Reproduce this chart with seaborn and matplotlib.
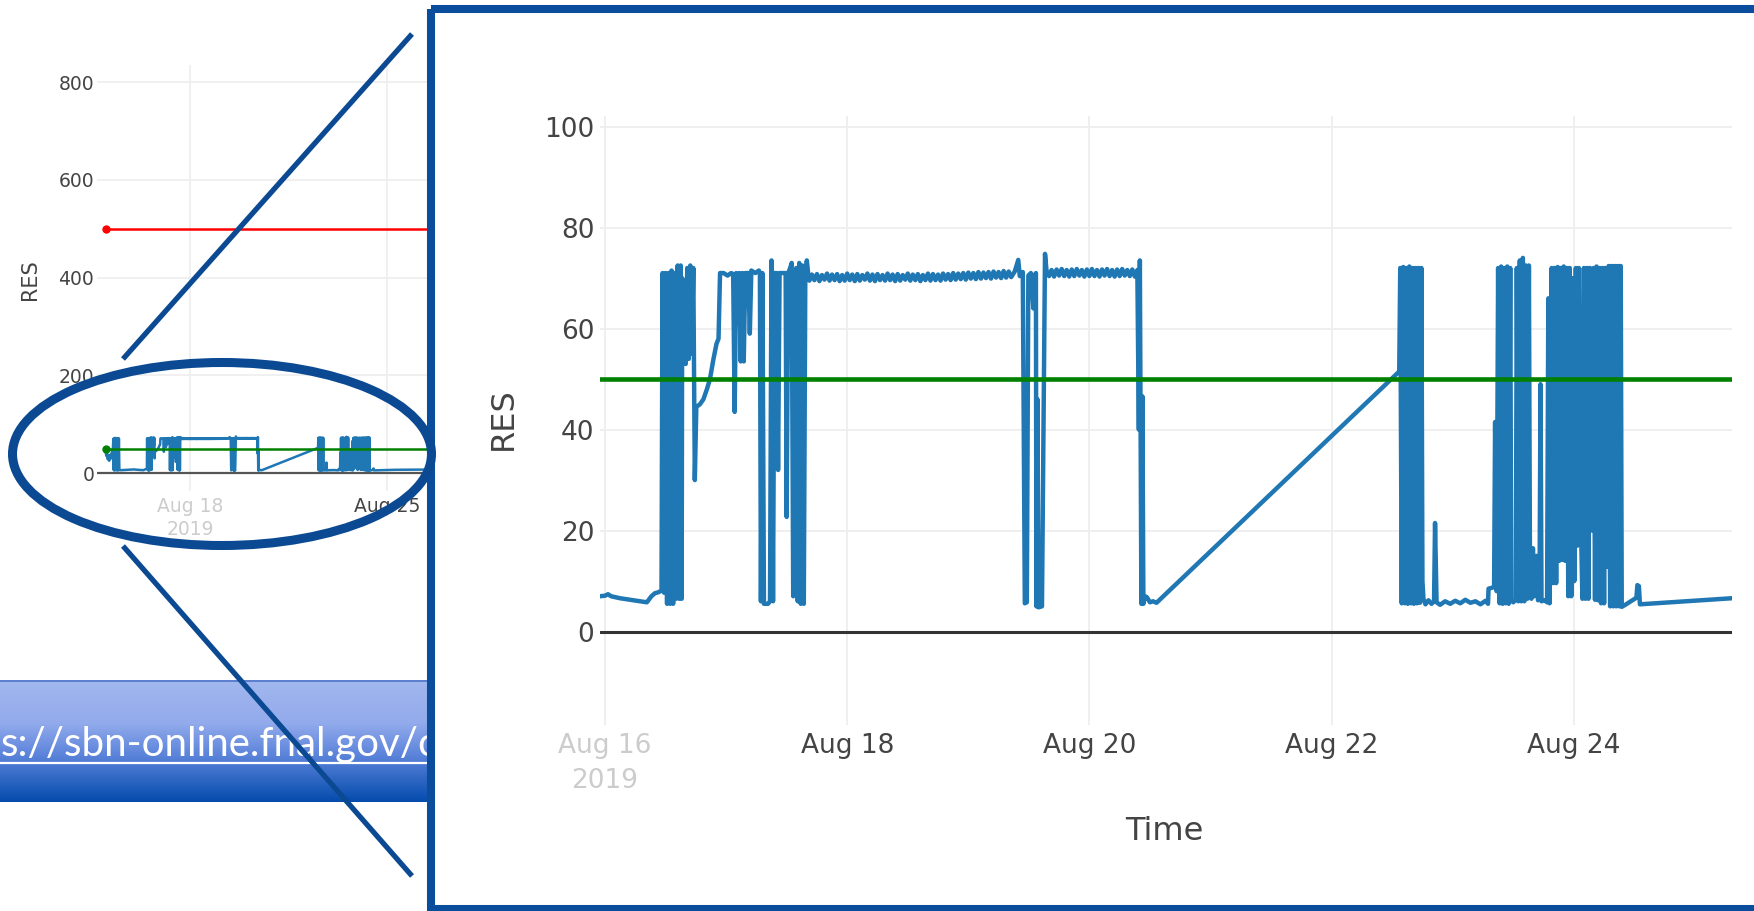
import numpy as np
import pandas as pd
import matplotlib
matplotlib.use('Agg')
import matplotlib.pyplot as plt
from matplotlib.patches import Rectangle, Ellipse
from matplotlib.colors import LinearSegmentedColormap
import seaborn as sns

sns.set_theme(style='white')
plt.rcParams['font.family'] = ['DejaVu Sans']

# ---------------- data (hours since 2019-08-16 00:00, RES values) ----------------
h_pre = [-24, -23.4, -22.8, -22.2, -21.6, -21, -20.4, -19.8, -19.2, -18.6, -18,
         -17.5, -17.1, -16.7, -16.3, -15.9, -15.5, -15.1, -14.7, -14.3, -13.9, -13.5, -13.1, -12.7, -12.3,
         -11, -8, -5, -2]
v_pre = [42, 35, 40, 28, 36, 25, 33, 38, 30, 44, 36,
         70, 6, 71, 5, 72, 7, 70, 6, 71, 5, 70, 6, 71, 6,
         5.8, 6.2, 6.6, 7.0]

h_b1 = [-1, 0, 0.6, 1.2, 3, 5, 7, 8.3, 9.2, 9.9, 10.6, 11.2,
        11.4, 11.7, 12.0, 12.3, 12.6, 12.9, 13.2, 13.5, 13.8, 14.1, 14.4, 14.7, 15.0, 15.2,
        15.3, 15.7, 16.0, 16.3, 16.6, 16.9, 17.2, 17.5, 17.8,
        18.1, 18.8, 19.5, 20.2, 20.8, 21.5, 22.1, 22.5, 22.8]
v_b1 = [7.0, 7.1, 7.4, 7.0, 6.6, 6.3, 6.0, 5.8, 7.0, 7.6, 7.8, 8.1,
        71, 7.7, 71, 5.5, 71, 5.5, 71.5, 5.5, 71, 6.5, 72.5, 6.5, 72.5, 6.5,
        70, 54, 53, 72, 54, 72.5, 55, 72, 30,
        44.5, 45, 46, 48, 50, 54, 57, 58, 71]

h_a17 = [23.5, 24.3, 25.0, 25.4, 25.7, 26.0, 26.3, 26.6, 26.9, 27.2, 27.5, 27.8, 28.4, 28.7, 29.0, 29.8, 30.5,
         30.7, 30.9, 31.2, 31.5, 32.3, 32.7, 33.0, 33.3, 33.6, 34.0, 34.3, 34.6,
         35.2, 35.8, 36.0, 36.3, 36.7, 37.0,
         37.3, 37.6, 37.9, 38.2, 38.5, 38.8, 39.1, 39.4, 39.7, 40.0, 40.3]
v_a17 = [71, 70.5, 71, 70.8, 43.5, 71, 64, 71, 53.5, 71, 53.5, 71, 71, 59, 71.5, 71, 71.5,
         71, 6, 71, 5.5, 5.5, 6, 73.5, 6, 71, 71, 32, 71,
         71, 71, 22.7, 71, 72, 73,
         7, 48, 72, 6, 73, 5.5, 72.5, 5.5, 71, 73.5, 70.5]

h_p1 = [40.5, 41.0, 41.5, 42.0, 42.5, 43.0, 43.5, 44.0, 44.5, 45.0,
        45.5, 46.0, 46.5, 47.0, 47.5, 48.0, 48.5, 49.0, 49.5, 50.0,
        50.5, 51.0, 51.5, 52.0, 52.5, 53.0, 53.5, 54.0, 54.5, 55.0,
        55.5, 56.0, 56.5, 57.0, 57.5, 58.0, 58.5, 59.0, 59.5, 60.0,
        60.5, 61.0, 61.5, 62.0, 62.5, 63.0, 63.5, 64.0, 64.5, 65.0,
        65.5, 66.0, 66.5, 67.0, 67.5, 68.0, 68.5, 69.0, 69.5, 70.0,
        70.5, 71.0, 71.5, 72.0, 72.5, 73.0, 73.5, 74.0, 74.5, 75.0,
        75.5, 76.0, 76.5, 77.0, 77.5, 78.0, 78.5, 79.0, 79.5, 80.0,
        80.5, 81.2, 81.9, 82.2, 82.8]
v_p1 = [69.5, 70.7, 69.6, 70.8, 69.4, 70.6, 69.7, 70.9, 69.5, 70.7,
        69.6, 70.8, 69.4, 70.6, 69.5, 70.9, 69.6, 70.7, 69.4, 70.8,
        69.5, 70.6, 69.7, 70.9, 69.5, 70.7, 69.4, 70.8, 69.6, 70.6,
        69.5, 70.9, 69.6, 70.7, 69.4, 70.8, 69.5, 70.6, 69.7, 70.9,
        69.5, 70.7, 69.6, 70.8, 69.4, 70.6, 69.6, 70.9, 69.5, 70.8,
        69.6, 70.7, 69.5, 70.9, 69.7, 70.8, 69.6, 71.0, 69.7, 70.9,
        69.8, 71.0, 69.7, 71.1, 69.9, 71.0, 69.8, 71.2, 69.9, 71.1,
        70.0, 71.2, 69.9, 71.3, 70.1, 71.2, 70.0, 71.4, 70.1, 71.3,
        70.2, 71.3, 73.6, 70.4, 71.2]

h_d1 = [83.2, 83.6, 83.9, 84.4, 84.9, 85.1, 85.4, 85.5, 85.7, 85.9, 86.6, 87.2, 87.5]
v_d1 = [5.6, 5.8, 70.5, 71, 64, 70.5, 71, 5, 46, 4.8, 5.0, 74.8, 71.5]

h_p2 = [88.0, 88.5, 89.0, 89.5, 90.0, 90.5, 91.0, 91.5, 92.0, 92.5,
        93.0, 93.5, 94.0, 94.5, 95.0, 95.5, 96.0, 96.5, 97.0, 97.5,
        98.0, 98.5, 99.0, 99.5, 100.0, 100.5, 101.0, 101.5, 102.0, 102.5,
        103.0, 103.5, 104.0, 104.5, 105.0, 105.5]
v_p2 = [70.4, 71.6, 70.3, 71.7, 70.5, 71.8, 70.4, 71.6, 70.3, 71.7,
        70.4, 71.8, 70.5, 71.6, 70.3, 71.7, 70.4, 71.8, 70.4, 71.6,
        70.3, 71.7, 70.5, 71.8, 70.4, 71.6, 70.3, 71.7, 70.4, 71.8,
        70.5, 71.6, 70.4, 71.7, 70.3, 71.6]

h_d2 = [105.8, 106.0, 106.3, 106.5, 106.7, 107.0, 107.4, 108.0, 108.6, 109.3, 157.4]
v_d2 = [40, 73.5, 5.5, 46.6, 5.5, 7.0, 6.8, 5.8, 6.0, 5.7, 51.5]

h_b2 = [157.6, 157.9, 158.2, 158.5, 158.8, 159.1, 159.4, 159.7, 160.0, 160.3, 160.6, 160.9,
        161.2, 161.5, 161.8, 162.0, 162.2]
v_b2 = [72, 5.6, 72.2, 5.6, 72, 5.5, 72.3, 5.6, 72, 5.5, 72, 5.6,
        72, 5.7, 72, 10, 6.5]

h_low = [162.6, 163.2, 163.8, 164.3, 164.5, 164.8, 165.5, 166.5, 167.5, 168.5, 169.5, 170.5,
         171.5, 172.5, 173.5, 174.5, 175.0, 175.1, 176.2, 176.4, 176.7]
v_low = [5.4, 6.2, 5.5, 6.0, 21.5, 5.8, 5.3, 6.0, 5.5, 6.1, 5.6, 6.3,
         5.7, 6.0, 5.4, 6.1, 5.5, 8.5, 8.8, 41.5, 8]

h_b34 = [177.0, 177.3, 177.6, 177.9, 178.2, 178.5, 178.8, 179.1, 179.4, 179.6, 180.0, 180.5,
         180.7, 181.0, 181.3, 181.6, 181.9, 182.2, 182.5, 182.8, 183.1, 183.3, 183.6, 183.9,
         184.2, 184.6, 184.9, 185.2, 185.4, 185.6, 186.2, 186.7]
v_b34 = [72, 5.6, 72.3, 5.5, 72, 5.6, 72.3, 5.5, 72, 6.2, 5.8, 6.3,
         72, 6, 73.5, 6, 74, 6, 72.5, 6.5, 72.5, 16, 6.5, 16.5,
         7, 15, 6.2, 6.5, 49, 6.0, 6.2, 5.8]

h_b5 = [186.95, 187.2, 187.6, 187.9, 188.2, 188.5, 188.8, 189.1, 189.4, 189.7, 190.0, 190.3,
        190.6, 190.9, 191.2, 191.5, 191.8, 192.1, 192.4, 192.7, 193.0, 193.3, 193.7, 194.0,
        194.3, 194.6, 194.9, 195.2, 195.5, 195.9, 196.2, 196.5, 196.8, 197.1, 197.4, 197.7,
        198.0, 198.2, 198.55, 198.9, 199.2, 199.5, 199.8, 200.1, 200.4, 200.7, 201.0, 201.3, 201.5]
v_b5 = [66, 5.6, 72, 9.6, 72, 9.6, 72.2, 14, 72, 14.2, 72.3, 14,
        72, 7, 72, 7, 70, 10, 72, 17, 72, 27, 6.5, 72,
        6.5, 72, 6.5, 72, 20, 72, 6.3, 72.3, 6.2, 72, 5.6, 72,
        5.6, 72, 12.8, 72.4, 5.0, 72.4, 5.0, 72.4, 5.0, 72.4, 5.0, 72.4, 4.9]

h_tail = [202.2, 203.0, 203.8, 204.4, 204.6, 204.9, 205.1, 223.3, 240, 260]
v_tail = [5.3, 5.8, 6.3, 6.7, 9.2, 9.0, 5.4, 6.6, 6.9, 7.2]

thresh_hours = [-24, 300]
red_level = [500, 500]
green_level = [50, 50]

small_yticks = [0, 200, 400, 600, 800]
small_xtick_dates = ['2019-08-18', '2019-08-25']
small_xtick_labels = ['Aug 18\n2019', 'Aug 25']
big_yticks = [0, 20, 40, 60, 80, 100]
big_xtick_dates = ['2019-08-16', '2019-08-18', '2019-08-20', '2019-08-22', '2019-08-24']
big_xtick_labels = ['Aug 16\n2019', 'Aug 18', 'Aug 20', 'Aug 22', 'Aug 24']
url_text = 's://sbn-online.fnal.gov/cgi-bin'

hours = h_pre + h_b1 + h_a17 + h_p1 + h_d1 + h_p2 + h_d2 + h_b2 + h_low + h_b34 + h_b5 + h_tail
values = v_pre + v_b1 + v_a17 + v_p1 + v_d1 + v_p2 + v_d2 + v_b2 + v_low + v_b34 + v_b5 + v_tail

base = pd.Timestamp('2019-08-16')
df = pd.DataFrame({'Time': base + pd.to_timedelta(hours, unit='h'), 'RES': values})
thr = pd.DataFrame({'Time': base + pd.to_timedelta(thresh_hours, unit='h'),
                    'red': red_level, 'green': green_level})

# ---------------- figure ----------------
W, H = 1754, 911
fig = plt.figure(figsize=(W / 100, H / 100), dpi=100)
fig.patch.set_facecolor('white')


def axes_px(left, top, right, bottom):
    return fig.add_axes([left / W, 1 - bottom / H, (right - left) / W, (bottom - top) / H])


BLUE = '#1f77b4'
GREEN = '#008000'
RED = '#ff0000'
TXT = '#444444'
LIGHT = '#cccccc'
GRID = '#eeeeee'
NAVY = '#0b4a92'

# ---------- small chart ----------
ax_s = axes_px(97, 65, 560, 491)
ax_s.set_zorder(1)
ax_s.grid(True, color=GRID, lw=1.2)
ax_s.set_axisbelow(True)
sns.lineplot(data=df, x='Time', y='RES', ax=ax_s, color=BLUE, lw=1.8, estimator=None, sort=False)
sns.lineplot(data=thr, x='Time', y='red', ax=ax_s, color=RED, lw=1.8, estimator=None,
             marker='o', markersize=6, markeredgewidth=0, markevery=[0])
sns.lineplot(data=thr, x='Time', y='green', ax=ax_s, color=GREEN, lw=1.8, estimator=None,
             marker='o', markersize=6, markeredgewidth=0, markevery=[0])
ax_s.axhline(0, color='#555555', lw=1.6, zorder=1.5)
ax_s.set_xlim(base + pd.Timedelta(hours=-31.4), base + pd.Timedelta(hours=364))
ax_s.set_ylim(-36.8, 835)
ax_s.set_yticks(small_yticks)
ax_s.set_yticklabels([str(v) for v in small_yticks])
ax_s.set_xticks(pd.to_datetime(small_xtick_dates))
ax_s.set_xticklabels(small_xtick_labels)
ax_s.tick_params(axis='both', length=0, labelsize=13.5, colors=TXT)
ax_s.tick_params(axis='y', pad=2)
ax_s.tick_params(axis='x', pad=4)
for lbl in ax_s.get_xticklabels():
    lbl.set_linespacing(1.3)
ax_s.get_xticklabels()[0].set_color(LIGHT)
ax_s.set_xlabel('')
ax_s.set_ylabel('')
for sp in ax_s.spines.values():
    sp.set_visible(False)
fig.text(30 / W, 1 - 280 / H, 'RES', rotation=90, ha='center', va='center', fontsize=15, color=TXT)

# ---------- overlay 1: banner + white frame fill ----------
ov1 = fig.add_axes([0, 0, 1, 1])
ov1.set_zorder(2)
ov1.patch.set_facecolor('none')
ov1.axis('off')
cmap = LinearSegmentedColormap.from_list('banner', [(0.0, '#a2b7ef'), (0.35, '#93abec'),
                                                    (0.6, '#5f86dc'), (1.0, '#054cae')])
grad = np.linspace(0, 1, 200).reshape(-1, 1)
ov1.imshow(grad, cmap=cmap, extent=(0, 431, 802, 680), aspect='auto', zorder=1, interpolation='bilinear')
ov1.plot([0, 431], [680.5, 680.5], color='#4f76c8', lw=1.2, zorder=2)
ov1.text(1, 756, url_text, fontsize=29, family='Lato', color='white', ha='left', va='baseline', zorder=3)
ov1.plot([0, 431], [763, 763], color='white', lw=1.6, zorder=3)
ov1.add_patch(Rectangle((431, 9), 1400, 900, facecolor='white', edgecolor='none', zorder=5))
ov1.set_xlim(0, W)
ov1.set_ylim(H, 0)

# ---------- big chart ----------
ax_b = axes_px(600, 116, 1732, 725)
ax_b.set_zorder(3)
ax_b.grid(True, color=GRID, lw=1.3)
ax_b.set_axisbelow(True)
sns.lineplot(data=df, x='Time', y='RES', ax=ax_b, color=BLUE, lw=3.2, estimator=None, sort=False)
sns.lineplot(data=thr, x='Time', y='green', ax=ax_b, color=GREEN, lw=3.3, estimator=None)
ax_b.axhline(0, color='#333333', lw=2.2, zorder=1.5)
ax_b.set_xlim(base + pd.Timedelta(hours=-0.99), base + pd.Timedelta(hours=223.35))
ax_b.set_ylim(-18.5, 102.1)
ax_b.set_yticks(big_yticks)
ax_b.set_yticklabels([str(v) for v in big_yticks])
ax_b.set_xticks(pd.to_datetime(big_xtick_dates))
ax_b.set_xticklabels(big_xtick_labels)
ax_b.tick_params(axis='both', length=0, labelsize=19, colors=TXT)
ax_b.tick_params(axis='y', pad=4)
ax_b.tick_params(axis='x', pad=6)
for lbl in ax_b.get_xticklabels():
    lbl.set_linespacing(1.45)
ax_b.get_xticklabels()[0].set_color(LIGHT)
ax_b.set_xlabel('')
ax_b.set_ylabel('')
for sp in ax_b.spines.values():
    sp.set_visible(False)
fig.text(503 / W, 1 - 419 / H, 'RES', rotation=90, ha='center', va='center', fontsize=23, color=TXT)
fig.text(1164 / W, 1 - 832 / H, 'Time', ha='center', va='center', fontsize=23, color=TXT)

# ---------- overlay 2: frame border, ellipse, connector lines ----------
ov2 = fig.add_axes([0, 0, 1, 1])
ov2.set_zorder(4)
ov2.patch.set_facecolor('none')
ov2.axis('off')
ov2.add_patch(Rectangle((431, 9), 1400, 900, fill=False, edgecolor='#0a4d9c', lw=5.8))
ov2.add_patch(Ellipse((222, 454), 419, 183, fill=False, edgecolor=NAVY, lw=6.5))
ov2.plot([123, 412], [359, 34], color=NAVY, lw=3.8, solid_capstyle='butt')
ov2.plot([123, 412], [546, 876], color=NAVY, lw=3.8, solid_capstyle='butt')
ov2.set_xlim(0, W)
ov2.set_ylim(H, 0)

fig.savefig('out.png', dpi=100, facecolor='white')
